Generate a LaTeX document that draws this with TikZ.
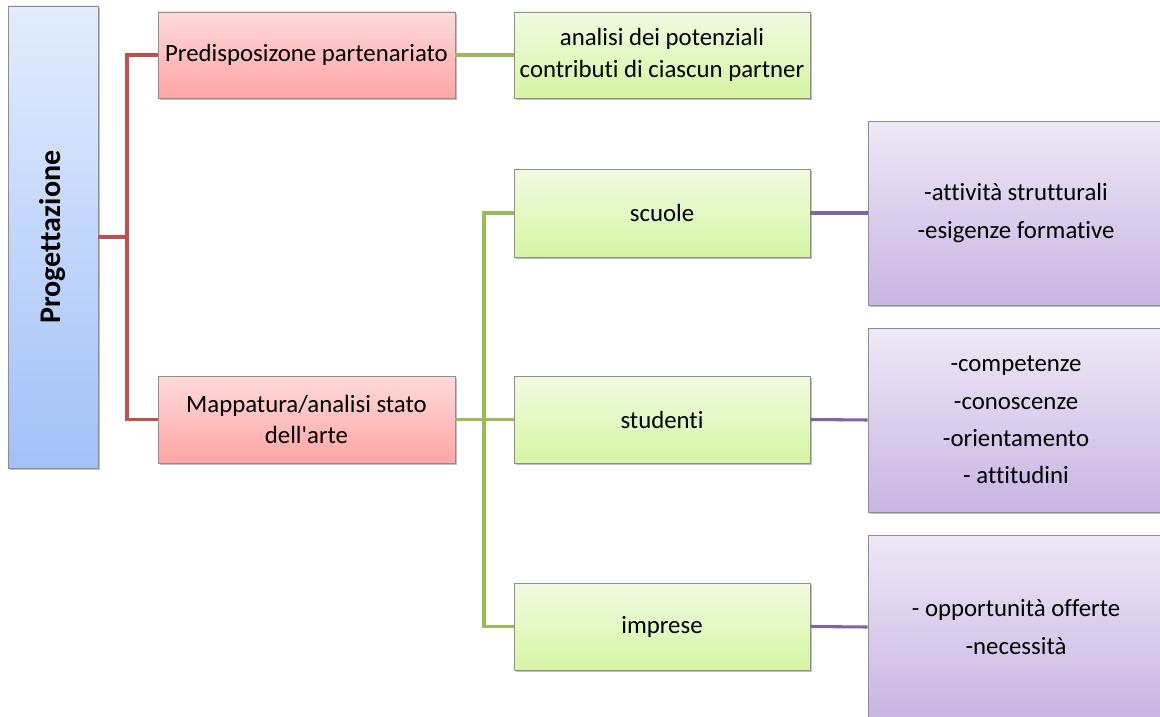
\documentclass[tikz,border=0pt]{standalone}
\usepackage{fontspec}
\setmainfont{Carlito}[Ligatures={NoCommon}]
\usetikzlibrary{shadows}
\definecolor{bluetop}{HTML}{E3ECFD}
\definecolor{bluebot}{HTML}{A2C1F8}
\definecolor{redtop}{HTML}{FFDADA}
\definecolor{redbot}{HTML}{FFA5A5}
\definecolor{greentop}{HTML}{F1FAE1}
\definecolor{greenbot}{HTML}{D5F6A4}
\definecolor{purtop}{HTML}{EEE8F6}
\definecolor{purbot}{HTML}{C8B5E3}
\definecolor{redline}{HTML}{C0504D}
\definecolor{greenline}{HTML}{9BBB59}
\definecolor{purline}{HTML}{8064A2}
\definecolor{edge}{HTML}{8E8E8E}
\tikzset{
  basebox/.style={draw=edge, line width=0.6pt, inner sep=2pt, align=center,
    font=\fontsize{18.6}{23.5}\selectfont,
    drop shadow={shadow xshift=1.5pt, shadow yshift=-1.5pt, fill=black, opacity=0.25}},
  bluebox/.style={basebox, top color=bluetop, bottom color=bluebot},
  redbox/.style={basebox, top color=redtop, bottom color=redbot},
  greenbox/.style={basebox, top color=greentop, bottom color=greenbot},
  purbox/.style={basebox, top color=purtop, bottom color=purbot, font=\fontsize{18.6}{28}\selectfont},
  redconn/.style={draw=redline, line width=2.3pt},
  greenconn/.style={draw=greenline, line width=2.3pt},
  purconn/.style={draw=purline, line width=2.3pt},
}
\begin{document}
\begin{tikzpicture}[x=0.75pt, y=-0.75pt]
\useasboundingbox (0,0) rectangle (1160,717);
\coordinate (rj) at (127,237);
\coordinate (gj) at (484,420);
\node[bluebox, minimum width=67.5pt, minimum height=346.5pt] (prog) at (53,237)
  {\rotatebox{90}{\fontsize{22.5}{24}\selectfont\bfseries Progettazione}};
\node[redbox, minimum width=222.75pt, minimum height=64.5pt] (pred) at (306.5,55) {Predisposizone partenariato};
\node[redbox, minimum width=222.75pt, minimum height=65.25pt] (mapp) at (306.5,419.5) {Mappatura/analisi stato\\dell\textquotesingle arte};
\node[greenbox, minimum width=222pt, minimum height=64.5pt] (anal) at (662,55) {analisi dei potenziali\\contributi di ciascun partner};
\node[greenbox, minimum width=222pt, minimum height=66pt] (scu) at (662,213) {scuole};
\node[greenbox, minimum width=222pt, minimum height=65.25pt] (stud) at (662,419.5) {studenti};
\node[greenbox, minimum width=222pt, minimum height=65.25pt] (impr) at (662,626.5) {imprese};
\node[purbox, minimum width=222pt, minimum height=138pt] (p1) at (1016,213) {-attività strutturali\\-esigenze formative};
\node[purbox, minimum width=222pt, minimum height=138pt] (p2) at (1016,420) {-competenze\\-conoscenze\\-orientamento\\- attitudini};
\node[purbox, minimum width=222pt, minimum height=138pt] (p3) at (1016,627) {- opportunità offerte\\-necessità};
\draw[redconn] (prog.east) -- (rj);
\draw[redconn] (pred.west) -| (rj) |- (mapp.west);
\draw[greenconn] (pred.east) -- (anal.west);
\draw[greenconn] (mapp.east) -- (stud.west);
\draw[greenconn] (scu.west) -| (gj) |- (impr.west);
\draw[purconn] (scu.east) -- (p1.west);
\draw[purconn] (stud.east) -- (p2.west);
\draw[purconn] (impr.east) -- (p3.west);
\end{tikzpicture}
\end{document}
